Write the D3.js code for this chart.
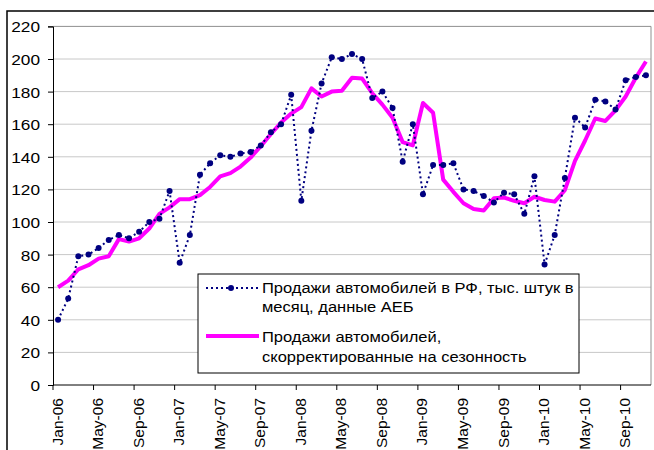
<!DOCTYPE html>
<html>
<head>
<meta charset="utf-8">
<script src="https://cdn.jsdelivr.net/npm/d3@7.9.0/dist/d3.min.js"></script>
<style>
  body { margin: 0; background: #fff; }
  svg { display: block; font-family: "Liberation Sans", Arial, sans-serif; }
</style>
</head>
<body>
<svg width="654" height="450"></svg>
<script>
const monthNames = ['Jan', 'Feb', 'Mar', 'Apr', 'May', 'Jun', 'Jul', 'Aug', 'Sep', 'Oct', 'Nov', 'Dec'];
const years = ['06', '07', '08', '09', '10'];
const months = [];
years.forEach((y) => monthNames.forEach((m) => months.push(`${m}-${y}`)));
months.length = 59; // Jan-06 .. Nov-10

// monthly sales, AEB (thousand units)
const salesAEB = [
  40, 53, 79, 80, 84, 89, 92, 90, 94, 100, 102, 119,
  75, 92, 129, 136, 141, 140, 142, 143, 147, 155, 160, 178,
  113, 156, 185, 201, 200, 203, 200, 176, 180, 170, 137, 160,
  117, 135, 135, 136, 120, 119, 116, 112, 118, 117, 105, 128,
  74, 92, 127, 164, 158, 175, 174, 169, 187, 189, 190
];
// seasonally adjusted
const salesAdj = [
  60, 64, 71, 73.5, 77.5, 79, 89.5, 88, 90, 96, 105, 109,
  114, 114, 116.5, 121.5, 128, 130, 134, 139.5, 146.5, 154, 161, 166.5,
  170.5, 182, 177, 180, 180.5, 188.5, 188, 179, 172, 164, 149, 147,
  173, 167, 126, 118.5, 111.5, 108, 107, 114.5, 115, 113, 111.5, 115.5,
  113.5, 112.5, 119.5, 137.5, 150, 163.5, 162, 168.5, 177, 188.5, 198.5
];
const yTicks = [0, 20, 40, 60, 80, 100, 120, 140, 160, 180, 200, 220];
const legendLabels = [
  ['Продажи автомобилей в РФ, тыс. штук в', 'месяц, данные АЕБ'],
  ['Продажи автомобилей,', 'скорректированные на сезонность']
];

const svg = d3.select('svg');
const plotL = 53, plotR = 651, plotT = 26.4, plotB = 385;

// outer chart frame
svg.append('rect').attr('x', 7).attr('y', 11).attr('width', 660).attr('height', 460)
  .attr('fill', 'none').attr('stroke', '#000').attr('stroke-width', 1.5);

const x = d3.scaleBand().domain(months).range([plotL, plotR]);
const y = d3.scaleLinear().domain([0, 220]).range([plotB, plotT]);
const cx = (i) => x(months[i]) + x.bandwidth() / 2;

// gridlines
svg.append('g').selectAll('line').data(yTicks.slice(1)).join('line')
  .attr('x1', plotL).attr('x2', plotR)
  .attr('y1', (d) => y(d)).attr('y2', (d) => y(d))
  .attr('stroke', (d) => d === 220 ? '#909090' : '#c8c8c8').attr('stroke-width', 1);
svg.append('line').attr('x1', plotR).attr('x2', plotR).attr('y1', plotT).attr('y2', plotB)
  .attr('stroke', '#909090');

// y axis (labels drawn a bit wider, like the original)
const yAxis = svg.append('g').attr('transform', `translate(${plotL},0)`)
  .call(d3.axisLeft(y).tickValues(yTicks).tickSize(5));
yAxis.select('.domain').attr('stroke', '#000');
yAxis.selectAll('.tick text').remove();
yAxis.selectAll('.tick').append('text')
  .attr('transform', 'translate(-13,0) scale(1.15,1)')
  .attr('text-anchor', 'end').attr('dominant-baseline', 'central')
  .attr('font-size', 15).attr('fill', '#000')
  .attr('font-family', '"Liberation Sans", Arial, sans-serif')
  .text((d) => d);

// x axis: ticks at band edges every 4 months, labels at band centres
const tickMonths = months.filter((m, i) => i % 4 === 0);
const xg = svg.append('g');
xg.append('line').attr('x1', plotL).attr('x2', plotR).attr('y1', plotB).attr('y2', plotB)
  .attr('stroke', '#000');
xg.selectAll('line.tk').data(tickMonths).join('line').attr('class', 'tk')
  .attr('x1', (d) => x(d)).attr('x2', (d) => x(d))
  .attr('y1', plotB).attr('y2', plotB + 5).attr('stroke', '#000');
xg.selectAll('text').data(tickMonths).join('text')
  .attr('transform', (d) => `translate(${x(d) + x.bandwidth() / 2 - 1},${plotB + 13}) rotate(-90)`)
  .attr('text-anchor', 'end').attr('dominant-baseline', 'central')
  .attr('font-size', 15.5).attr('fill', '#000').text((d) => d);

// seasonally adjusted line
svg.append('path').datum(salesAdj)
  .attr('d', d3.line().x((d, i) => cx(i)).y((d) => y(d)))
  .attr('fill', 'none').attr('stroke', '#ff00ff').attr('stroke-width', 4)
  .attr('stroke-linejoin', 'round');

// AEB dotted line with markers
svg.append('path').datum(salesAEB)
  .attr('d', d3.line().x((d, i) => cx(i)).y((d) => y(d)))
  .attr('fill', 'none').attr('stroke', '#000080').attr('stroke-width', 2)
  .attr('stroke-dasharray', '2,3');
svg.append('g').selectAll('circle').data(salesAEB).join('circle')
  .attr('cx', (d, i) => cx(i)).attr('cy', (d) => y(d)).attr('r', 3)
  .attr('fill', '#000080');

// legend
const lg = svg.append('g');
lg.append('rect').attr('x', 198).attr('y', 274).attr('width', 381).attr('height', 99)
  .attr('fill', '#fff').attr('stroke', '#000').attr('stroke-width', 1);
lg.append('line').attr('x1', 206).attr('x2', 259).attr('y1', 288).attr('y2', 288)
  .attr('stroke', '#000080').attr('stroke-width', 2).attr('stroke-dasharray', '2,3');
lg.append('circle').attr('cx', 231).attr('cy', 288).attr('r', 3).attr('fill', '#000080');
lg.append('line').attr('x1', 206).attr('x2', 259).attr('y1', 336).attr('y2', 336)
  .attr('stroke', '#ff00ff').attr('stroke-width', 4);
const lineY = [[288, 307], [337, 357]];
legendLabels.forEach((lines, k) => {
  lines.forEach((t, j) => {
    lg.append('text').attr('transform', `translate(262,${lineY[k][j]}) scale(1.1,1)`)
      .attr('dominant-baseline', 'central').attr('font-size', 15).attr('fill', '#000')
      .text(t);
  });
});
</script>
</body>
</html>
